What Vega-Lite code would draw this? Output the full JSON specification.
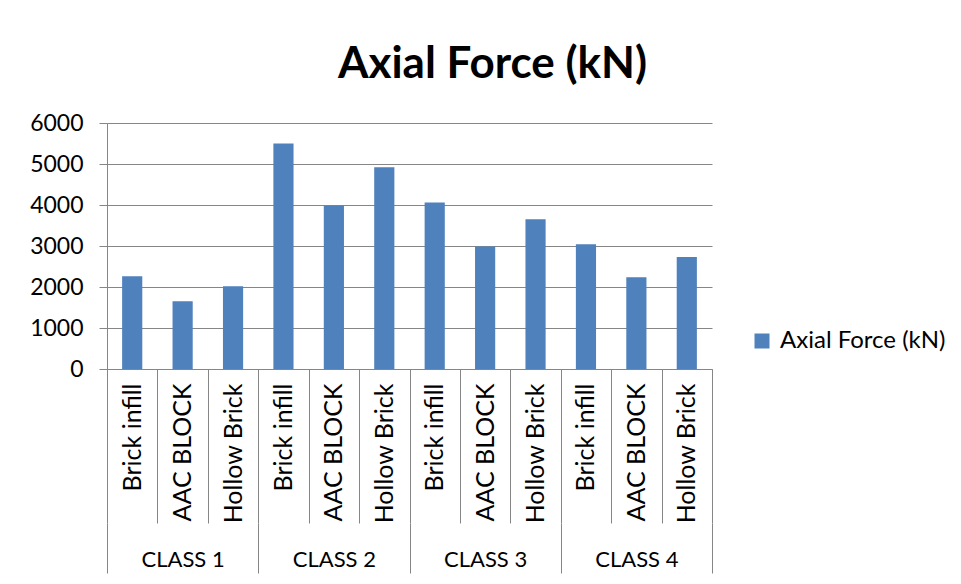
{
  "$schema": "https://vega.github.io/schema/vega-lite/v6.json",
  "width": 605,
  "height": 246,
  "autosize": {"type": "none"},
  "padding": {"left": 107, "top": 123, "right": 249, "bottom": 215},
  "background": "white",
  "config": {"font": "Lato", "view": {"stroke": null}},
  "title": {"text": "Axial Force (kN)", "font": "Lato", "fontSize": 44, "fontWeight": "bold", "color": "#000000", "anchor": "middle", "dx": 83, "offset": 25},
  "data": {"values": [
    {"key": "CLASS 1|Brick infill", "cls": "CLASS 1", "series": "Axial Force (kN)", "force": 2260},
    {"key": "CLASS 1|AAC BLOCK", "cls": "CLASS 1", "series": "Axial Force (kN)", "force": 1650},
    {"key": "CLASS 1|Hollow Brick", "cls": "CLASS 1", "series": "Axial Force (kN)", "force": 2020},
    {"key": "CLASS 2|Brick infill", "cls": "CLASS 2", "series": "Axial Force (kN)", "force": 5500},
    {"key": "CLASS 2|AAC BLOCK", "cls": "CLASS 2", "series": "Axial Force (kN)", "force": 3990},
    {"key": "CLASS 2|Hollow Brick", "cls": "CLASS 2", "series": "Axial Force (kN)", "force": 4920},
    {"key": "CLASS 3|Brick infill", "cls": "CLASS 3", "series": "Axial Force (kN)", "force": 4060},
    {"key": "CLASS 3|AAC BLOCK", "cls": "CLASS 3", "series": "Axial Force (kN)", "force": 2990},
    {"key": "CLASS 3|Hollow Brick", "cls": "CLASS 3", "series": "Axial Force (kN)", "force": 3650},
    {"key": "CLASS 4|Brick infill", "cls": "CLASS 4", "series": "Axial Force (kN)", "force": 3040},
    {"key": "CLASS 4|AAC BLOCK", "cls": "CLASS 4", "series": "Axial Force (kN)", "force": 2240},
    {"key": "CLASS 4|Hollow Brick", "cls": "CLASS 4", "series": "Axial Force (kN)", "force": 2730}
  ]},
  "layer": [
    {
      "mark": {"type": "bar", "width": {"band": 0.4}},
      "encoding": {
        "x": {"field": "key", "type": "nominal", "sort": null,
          "scale": {"paddingInner": 0, "paddingOuter": 0},
          "axis": {"title": null, "orient": "bottom", "labelExpr": "split(datum.label, '|')[1]",
            "labelAngle": -90, "labelFont": "Lato", "labelFontSize": 25, "labelColor": "#000000",
            "labelPadding": -140, "tickBand": "extent", "tickSize": 154, "tickColor": "#868686",
            "domainColor": "#868686", "tickWidth": 1, "domainWidth": 1, "labelLimit": 300}},
        "y": {"field": "force", "type": "quantitative",
          "scale": {"domain": [0, 6000]},
          "axis": {"title": null, "values": [0, 1000, 2000, 3000, 4000, 5000, 6000], "format": "d",
            "labelFont": "Lato", "labelFontSize": 23, "labelColor": "#000000", "labelPadding": 16,
            "tickSize": 8, "tickColor": "#868686", "domainColor": "#868686",
            "gridColor": "#868686", "gridWidth": 1, "gridOpacity": 1}},
        "color": {"field": "series", "type": "nominal",
          "scale": {"range": ["#4F81BD"]},
          "legend": {"title": null, "orient": "none", "legendX": 643, "legendY": 206,
            "symbolType": "square", "symbolSize": 225, "symbolStrokeWidth": 0,
            "labelFont": "Lato", "labelFontSize": 24, "labelColor": "#000000", "labelOffset": 6,
            "labelLimit": 400}}
      }
    },
    {
      "mark": {"type": "bar", "opacity": 0},
      "encoding": {
        "x": {"field": "cls", "type": "nominal", "sort": null,
          "scale": {"paddingInner": 0, "paddingOuter": 0},
          "axis": {"title": null, "orient": "bottom", "offset": 154, "domain": false,
            "tickBand": "extent", "tickSize": 50, "tickColor": "#868686", "tickWidth": 1,
            "labelAngle": 0, "labelBaseline": "middle", "labelAlign": "center", "labelPadding": -14,
            "labelFont": "Lato", "labelFontSize": 22, "labelColor": "#000000"}}
      }
    }
  ],
  "resolve": {"scale": {"x": "independent"}, "axis": {"x": "independent"}}
}
